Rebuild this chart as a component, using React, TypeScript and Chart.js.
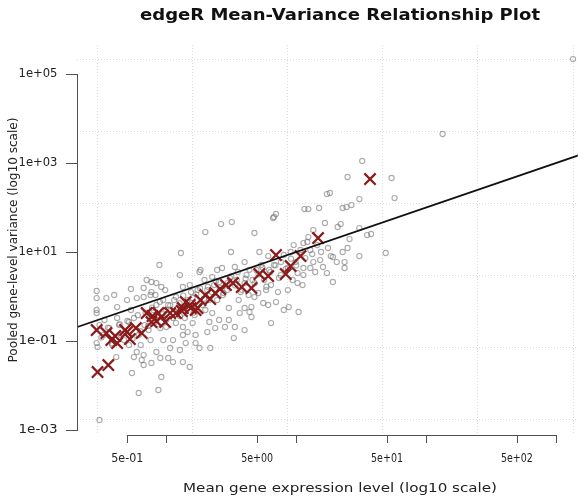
import { useEffect, useRef } from "react";
import { Chart, registerables } from "chart.js";

Chart.register(...registerables);

// Per-gene mean expression and pooled variance, stored as log10 values
const geneMeanLog10 = [
  -0.537, -0.537, -0.462, -0.402, -0.537, -0.537, -0.477, -0.379, -0.379, -0.303, -0.273, -0.537, -0.530, -0.386,
  -0.515, -0.288, -0.228, -0.25, -0.265, -0.213, -0.175, -0.19, -0.175, -0.115, -0.077, -0.047, -0.039, -0.062,
  0.014, 0.051, 0.127, 0.18, 0.029, 0.104, 0.149, 0.225, 0.255, 0.225, -0.122, -0.024, 0.051, 0.127, -0.175,
  -0.122, -0.024, 0.074, -0.001, 0.074, 0.127, 0.164, 0.202, 0.112, -0.054, 0.104, -0.152, -0.115, -0.077,
  -0.273, -0.175, -0.115, -0.084, -0.228, -0.039, -0.009, 0.127, 0.18, 0.255,
  0.3, 0.421, 0.504, 0.678, 0.821, 0.844, 0.497, 0.716, 0.98, 1.055, 1.093, 0.784, 0.957, 0.391, 0.429, 0.527,
  0.602, 0.293, 0.353, 0.263, 1.01, 1.055, 1.01, 0.935, 0.859, 0.806, 0.708, 0.746, 0.678, 0.655, 0.64, 0.655,
  0.806, 0.904, 0.942, 1.018, 0.602, 0.527, 0.451, 0.376, 0.315, 0.338, 0.519, 0.481, 0.406, 0.331, 0.353, 0.3,
  0.565, 0.602, 0.784, 0.844, 0.557, 0.481,
  3.131, 2.127, 1.508, 1.395, 1.734, 1.757, 1.236, 1.259, 1.063, 1.093, 1.176, 1.357, 1.387, 1.425, 1.486, 0.829,
  1.221, 1.319, 1.342, 1.486, 1.546, 1.576, 1.689, 1.085, 1.41, 1.395, 1.357, 1.244, 1.266, 1.486, 1.123, 1.131,
  1.184, 1.206, 1.108, 1.146, 1.236, 1.372, 1.282, 1.055, 1.048, 1.312, 1.372, 1.282,
  -0.515, -0.484, -0.439, -0.416, -0.364, -0.349, -0.326, -0.288, -0.25, -0.213, -0.198, -0.168, -0.137, -0.1,
  -0.077, -0.047, -0.024, -0.001, 0.014, 0.051, 0.089, 0.104, 0.142, 0.164, 0.202, 0.217, 0.24, 0.278, 0.315,
  0.331, 0.368, 0.391, 0.406, 0.436, 0.466, 0.489, 0.542, 0.572, 0.602, 0.617, 0.633, 0.663, 0.693, 0.731,
  0.753, 0.768, 0.791, 0.829, 0.867, 0.882, 0.904, 0.935, 0.972, 0.995, 1.033, 1.07, 1.108, 1.131, 1.161, 1.191,
  -0.5, -0.45, -0.42, -0.36, -0.33, -0.3, -0.26, -0.22, -0.2, -0.16, -0.14, -0.11, -0.09, -0.05, -0.03, 0.0,
  0.03, 0.06, 0.08, 0.1, 0.13, 0.16, 0.19, 0.21, 0.23, 0.26, 0.29, 0.32, 0.35, 0.38, 0.41, 0.44, 0.47, 0.5,
  0.53, 0.55, 0.58, 0.61, 0.64, 0.68, 0.71, 0.74, 0.77, 0.8, 0.84, 0.88, 0.92, 0.96, 1.0,
];
const geneVarLog10 = [
  0.124, -0.034, -0.034, 0.034, -0.303, -0.371, -0.528, -0.236, -0.483, -0.079, -0.303, -1.045, -1.135, -1.36,
  -2.775, -1.09, -1.247, -1.36, -1.719, -2.168, -1.315, -1.427, -1.539, -1.494, -1.247, -1.382, -1.809, -2.101,
  -1.382, -1.472, -1.472, -1.584, -1.157, -1.202, -1.045, -1.045, -1.157, -0.865, -0.978, -0.978, -0.978, -0.865,
  -0.011, 0.034, -0.079, -0.011, -0.685, -0.596, -0.685, -0.798, -0.596, 0.978, 0.708, 0.483, 0.371, 0.326,
  0.303, 0.169, 0.191, 0.101, 0.034, -0.034, 0.214, 0.146, 0.214, 0.258, 0.551,
  1.449, 1.629, 1.674, 1.427, 1.764, 1.854, 1.0, 1.0, 1.157, 1.202, 1.337, 0.91, 1.0, 0.596, 0.641, 0.663,
  0.775, 0.371, 0.438, 0.596, 0.528, 0.641, 0.303, 0.146, 0.101, 0.258, 0.079, -0.146, -0.011, -0.236, -0.348,
  -0.461, -0.596, -0.303, -0.236, -0.348, -0.753, -0.685, -0.685, -0.708, -0.798, -1.157, -0.933, -0.528,
  -0.528, -0.573, -0.371, -0.303, -0.371, -0.258, -0.191, -0.124, -0.079, -0.258,
  5.337, 3.652, 3.045, 2.686, 2.663, 2.213, 2.303, 2.326, 1.966, 1.966, 1.989, 1.989, 2.011, 2.056, 2.191, 1.787,
  1.652, 1.562, 1.629, 1.539, 1.382, 1.405, 0.978, 1.225, 1.292, 1.09, 1.0, 1.09, 0.91, 0.91, 0.955, 1.494,
  0.82, 0.663, 0.641, 0.551, 0.528, 0.641, 0.326, 0.483, 0.258, 0.775, 0.775, 0.888,
  -0.641, -0.865, -0.708, -1.09, -0.641, -0.865, -0.978, -0.573, -0.483, -0.865, -1.09, -0.641, -0.753, -0.303,
  -0.191, -0.708, -0.483, -0.303, -0.191, -0.483, -0.258, -0.438, -0.483, -0.079, -0.034, -0.416, 0.146, -0.191,
  0.146, -0.079, 0.258, -0.079, 0.326, 0.034, 0.146, 0.416, 0.371, 0.101, 0.303, 0.483, 0.034, 0.371, 0.596,
  0.708, 0.371, 0.146, 0.596, 0.708, 0.416, 0.775, 0.933, 0.641, 0.371, 0.775, 1.045, 0.865, 1.045, 0.775,
  1.157, 1.0,
  -0.92, -0.7, -1.05, -0.62, -0.83, -0.55, -0.95, -0.42, -0.78, -0.36, -0.66, -0.25, -0.58, -0.12, -0.4, -0.52,
  -0.2, -0.08, -0.35, -0.15, 0.02, -0.12, 0.1, -0.36, 0.05, 0.18, -0.05, 0.22, 0.1, 0.35, 0.2, 0.08, 0.3, 0.45,
  0.25, 0.55, 0.15, 0.4, 0.6, 0.3, 0.5, 0.65, 0.22, 0.55, 0.7, 0.48, 0.62, 0.85, 0.7,
];

// Highlighted genes (drawn as crosses), log10 mean and log10 variance
const highlightMeanLog10 = [
  -0.53, -0.447, -0.537, -0.462, -0.394, -0.379, -0.318, -0.281, -0.235, -0.19, -0.152, -0.107, -0.077, -0.039,
  0.029, 0.074, 0.119, 0.149, 0.187, 0.225, 0.263, 0.3, 0.338, 0.376, 0.414, 0.459, 0.512, 0.58, 0.655, 0.716,
  0.784, 0.844, 0.919, 0.957, 1.033, 1.168, 1.568, -0.115, -0.062, -0.009, 0.127, 0.18, 0.24, -0.424, -0.303,
];
const highlightVarLog10 = [
  -1.697, -1.539, -0.753, -0.82, -0.888, -1.045, -0.753, -0.955, -0.708, -0.82, -0.371, -0.438, -0.551, -0.461,
  -0.371, -0.371, -0.326, -0.124, -0.258, -0.303, -0.079, 0.034, -0.056, 0.079, 0.169, 0.258, 0.303, 0.214,
  0.191, 0.506, 0.461, 0.933, 0.506, 0.685, 0.91, 1.315, 2.64, -0.573, -0.371, -0.573, -0.258, -0.191, -0.258,
  -0.978, -0.798,
];

// Reference line: variance equal to the mean
const poissonMean = [0.15, 2000];
const poissonVar = [0.15, 2000];

// Axis extents and ticks
const xRange = [0.205, 1472];
const yRange = [7.73e-4, 4.49e5];
const xTicks = [0.5, 1, 5, 10, 50, 100, 500, 1000];
const xTickLabels = ["5e-01", "", "5e+00", "", "5e+01", "", "5e+02", ""];
const yTicks = [1e-3, 1e-1, 1e1, 1e3, 1e5];
const yTickLabels = ["1e-03", "1e-01", "1e+01", "1e+03", "1e+05"];
// Background grid positions
const xGrid = [0.29, 1.57, 8.49, 45.9, 248, 1343];
const yGrid = [2.17e5, 5210, 125, 3.0, 0.072, 0.00173];

const titleText = "edgeR Mean-Variance Relationship Plot";
const xTitle = "Mean gene expression level (log10 scale)";
const yTitle = "Pooled gene-level variance (log10 scale)";

const toPoints = (xs: number[], ys: number[]) =>
  xs.map((v, i) => ({ x: Math.pow(10, v), y: Math.pow(10, ys[i]) }));

function fitText(
  ctx: CanvasRenderingContext2D,
  text: string,
  x: number,
  y: number,
  font: string,
  width: number,
  angle = 0,
  color = "#222"
) {
  ctx.save();
  ctx.font = font;
  const w = ctx.measureText(text).width;
  ctx.translate(x, y);
  ctx.rotate(angle);
  ctx.scale(width / w, 1);
  ctx.fillStyle = color;
  ctx.textAlign = "center";
  ctx.textBaseline = "middle";
  ctx.fillText(text, 0, 0);
  ctx.restore();
}

// Dotted background grid, drawn under the points
const gridPlugin = {
  id: "dottedGrid",
  beforeDatasetsDraw(chart: any) {
    const { ctx, chartArea, scales } = chart;
    ctx.save();
    ctx.fillStyle = "#dcdcdc";
    xGrid.forEach((v) => {
      const px = Math.round(scales.x.getPixelForValue(v));
      for (let y = chartArea.top; y < chartArea.bottom; y += 3) ctx.fillRect(px, y, 1, 1);
    });
    yGrid.forEach((v) => {
      const py = Math.round(scales.y.getPixelForValue(v));
      for (let x = chartArea.left; x < chartArea.right; x += 3) ctx.fillRect(x, py, 1, 1);
    });
    ctx.restore();
  },
};

// Detached axis lines with outward ticks, plus all text
const axisPlugin = {
  id: "rAxisLines",
  afterDraw(chart: any) {
    const { ctx, chartArea, scales } = chart;
    const left = Math.round(chartArea.left);
    const bottom = Math.round(chartArea.bottom);
    const yTop = Math.round(scales.y.getPixelForValue(yTicks[yTicks.length - 1]));
    const yBot = Math.round(scales.y.getPixelForValue(yTicks[0]));
    const xL = Math.round(scales.x.getPixelForValue(xTicks[0]));
    const xR = Math.round(scales.x.getPixelForValue(xTicks[xTicks.length - 1]));
    ctx.save();
    ctx.fillStyle = "#505050";
    ctx.fillRect(left, yTop, 1, yBot - yTop + 1);
    ctx.fillRect(xL, bottom, xR - xL + 1, 1);
    for (const v of yTicks) {
      const py = Math.round(scales.y.getPixelForValue(v));
      ctx.fillRect(left - 11, py, 11, 1);
    }
    for (const v of xTicks) {
      const px = Math.round(scales.x.getPixelForValue(v));
      ctx.fillRect(px, bottom, 1, 8);
    }
    ctx.restore();

    yTicks.forEach((v, i) => {
      fitText(ctx, yTickLabels[i], 38, scales.y.getPixelForValue(v), "11.5px 'DejaVu Sans'", 39);
    });
    xTicks.forEach((v, i) => {
      if (xTickLabels[i]) fitText(ctx, xTickLabels[i], scales.x.getPixelForValue(v), 459, "11.5px 'DejaVu Sans'", 32);
    });
    fitText(ctx, xTitle, 340, 489, "13px 'DejaVu Sans'", 314);
    fitText(ctx, yTitle, 14, 240, "13px 'DejaVu Sans'", 245, -Math.PI / 2);
    fitText(ctx, titleText, 340, 16, "bold 15px 'DejaVu Sans'", 400, 0, "#111");
  },
};

export default function App() {
  const canvasRef = useRef<HTMLCanvasElement | null>(null);

  useEffect(() => {
    document.body.style.margin = "0";
    const canvas = canvasRef.current;
    if (!canvas) return;
    const chart = new Chart(canvas, {
      type: "scatter",
      data: {
        datasets: [
          {
            label: "Poisson",
            data: toPoints(poissonMean.map(Math.log10), poissonVar.map(Math.log10)),
            showLine: true,
            borderColor: "#111",
            borderWidth: 1.8,
            pointRadius: 0,
            order: 0,
          },
          {
            label: "Highlighted",
            data: toPoints(highlightMeanLog10, highlightVarLog10),
            pointStyle: "crossRot",
            pointRadius: 8,
            borderColor: "#8b1a1a",
            borderWidth: 2.2,
            backgroundColor: "#8b1a1a",
            order: 1,
          },
          {
            label: "Genes",
            data: toPoints(geneMeanLog10, geneVarLog10),
            pointStyle: "circle",
            pointRadius: 2.6,
            borderColor: "rgba(115,115,115,0.6)",
            borderWidth: 1.1,
            backgroundColor: "rgba(0,0,0,0)",
            order: 2,
          },
        ],
      },
      options: {
        animation: false,
        responsive: true,
        maintainAspectRatio: false,
        layout: { padding: { left: 77, right: 0, top: 45, bottom: 65 } },
        plugins: { legend: { display: false }, tooltip: { enabled: false }, title: { display: false } },
        scales: {
          x: { type: "logarithmic", min: xRange[0], max: xRange[1], display: false },
          y: { type: "logarithmic", min: yRange[0], max: yRange[1], display: false },
        },
      },
      plugins: [gridPlugin, axisPlugin],
    });
    return () => chart.destroy();
  }, []);

  return (
    <div style={{ width: 588, height: 500, position: "relative", background: "#fff" }}>
      <canvas ref={canvasRef} />
    </div>
  );
}
